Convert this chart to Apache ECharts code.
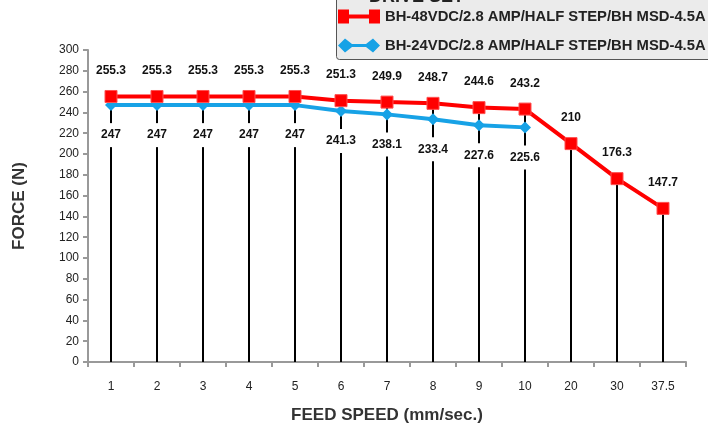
<!DOCTYPE html>
<html>
<head>
<meta charset="utf-8">
<script src="https://cdn.jsdelivr.net/npm/echarts@6.0.0/dist/echarts.min.js"></script>
<style>
html,body{margin:0;padding:0;background:#fff;}
#c{width:708px;height:428px;}
</style>
</head>
<body>
<div id="c"></div>
<script>
var categories = ['1','2','3','4','5','6','7','8','9','10','20','30','37.5'];
var red48 = [255.3,255.3,255.3,255.3,255.3,251.3,249.9,248.7,244.6,243.2,210,176.3,147.7];
var blue24 = [247,247,247,247,247,241.3,238.1,233.4,227.6,225.6,null,null,null];
var yTicksMin = 0, yTicksMax = 300, yTicksStep = 20;
var redName = 'BH-48VDC/2.8 AMP/HALF STEP/BH MSD-4.5A';
var blueName = 'BH-24VDC/2.8 AMP/HALF STEP/BH MSD-4.5A';

var dropData = categories.map(function(c, i){
  var v = red48[i];
  if (blue24[i] != null && blue24[i] > v) v = blue24[i];
  return [i, v];
});

var chart = echarts.init(document.getElementById('c'));
var font = '"Liberation Sans", Arial, sans-serif';
chart.setOption({
  backgroundColor: '#ffffff',
  animation: false,
  grid: {left: 88, top: 50, right: 22, bottom: 66, containLabel: false, outerBoundsMode: 'none'},
  graphic: [
    {type:'rect', left: 336, top: -30, z: 0,
     shape:{width: 400, height: 89, r: 3},
     style:{fill:'#ebebeb', stroke:'#555', lineWidth: 1}},
    {type:'text', x: 369, y: -12, z: 10,
     style:{text:'DRIVE SET', font:'bold 18px ' + font, fill:'#222', verticalAlign:'top'}}
  ],
  legend: {
    orient: 'vertical',
    left: 338, top: 9,
    itemWidth: 42, itemHeight: 14, itemGap: 14,
    padding: 0,
    z: 5,
    textStyle: {fontFamily: font, fontWeight: 'bold', fontSize: 14.8, color: '#222'},
    data: [
      {name: redName, icon: 'path://M0,0H11V5H31V0H42V14H31V9H11V14H0Z', itemStyle:{color:'#ff0000', borderWidth: 0}},
      {name: blueName, icon: 'path://M0,7L7,0L14,5.5H28L35,0L42,7L35,14L28,8.5H14L7,14Z', itemStyle:{color:'#17a2e6'}}
    ]
  },
  xAxis: {
    type: 'category',
    data: categories,
    boundaryGap: true,
    name: 'FEED SPEED (mm/sec.)',
    nameLocation: 'middle',
    nameGap: 45,
    nameTextStyle: {fontFamily: font, fontWeight: 'bold', fontSize: 17, color: '#333'},
    axisLine: {lineStyle: {color: '#999', width: 2}},
    axisTick: {show: true, alignWithLabel: false, length: 5, lineStyle: {color: '#999', width: 2}},
    axisLabel: {fontFamily: font, fontSize: 12, color: '#222', margin: 19},
    splitLine: {show: false}
  },
  yAxis: {
    type: 'value',
    min: yTicksMin, max: yTicksMax, interval: yTicksStep,
    name: 'FORCE (N)',
    nameLocation: 'middle',
    nameGap: 60,
    nameRotate: 90,
    nameTextStyle: {fontFamily: font, fontWeight: 'bold', fontSize: 17, color: '#333'},
    axisLine: {show: true, lineStyle: {color: '#999', width: 2}},
    axisTick: {show: true, length: 5, lineStyle: {color: '#999', width: 2}},
    axisLabel: {fontFamily: font, fontSize: 12, color: '#222', margin: 9},
    splitLine: {show: false}
  },
  series: [
    {
      type: 'custom',
      z: 1,
      silent: true,
      data: dropData,
      renderItem: function(params, api){
        var top = api.coord([api.value(0), api.value(1)]);
        var bot = api.coord([api.value(0), 0]);
        return {type:'line', shape:{x1: top[0], y1: top[1], x2: bot[0], y2: bot[1]},
                style:{stroke:'#000', lineWidth: 2}};
      }
    },
    {
      name: blueName,
      type: 'line',
      z: 2,
      data: blue24,
      color: '#17a2e6',
      symbol: 'diamond',
      symbolSize: 12,
      lineStyle: {width: 4, color: '#17a2e6'},
      itemStyle: {color: '#17a2e6'},
      label: {show: true, position: 'bottom', distance: 12, fontFamily: font, fontWeight: 'bold',
              fontSize: 12, color: '#111', backgroundColor: '#fff', padding: [6, 2]}
    },
    {
      name: redName,
      type: 'line',
      z: 3,
      data: red48,
      color: '#ff0000',
      symbol: 'rect',
      symbolSize: 12,
      lineStyle: {width: 4, color: '#ff0000'},
      itemStyle: {color: '#ff0000', borderColor: '#ff5050', borderWidth: 1},
      label: {show: true, position: 'top', distance: 13, fontFamily: font, fontWeight: 'bold',
              fontSize: 12, color: '#111'}
    }
  ]
});
</script>
</body>
</html>
